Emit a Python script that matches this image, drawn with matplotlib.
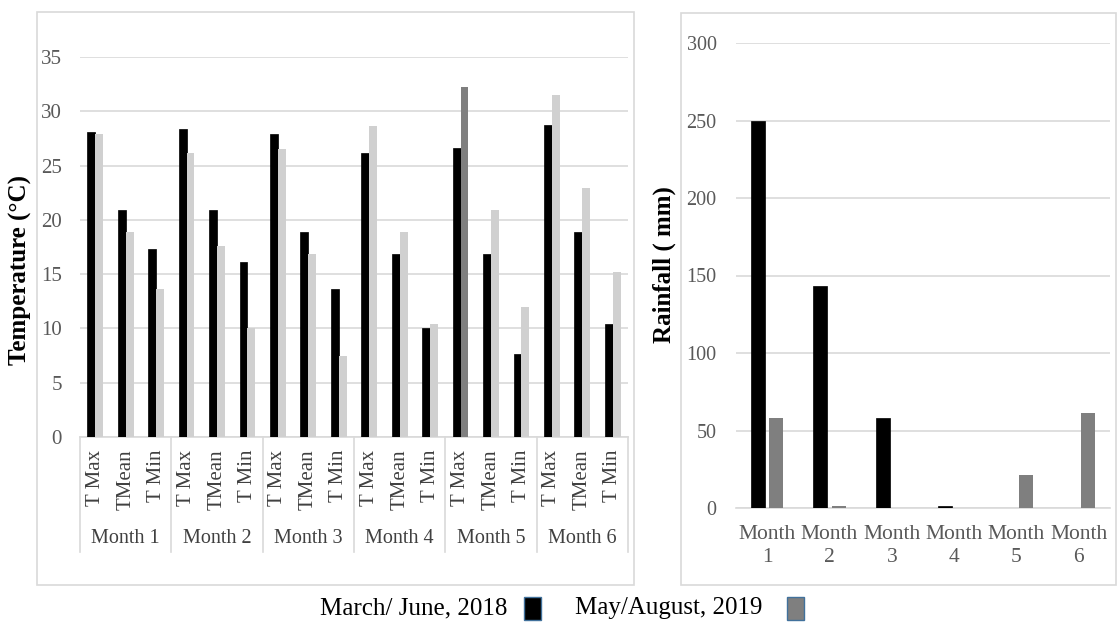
import matplotlib
matplotlib.use("Agg")
import matplotlib.pyplot as plt
import matplotlib.transforms as mtransforms
from matplotlib.patches import Rectangle
import numpy as np

plt.rcParams['font.family'] = ['Liberation Serif', 'DejaVu Serif']

# ---- data ----
months = ['Month 1', 'Month 2', 'Month 3', 'Month 4', 'Month 5', 'Month 6']
measures = ['T Max', 'TMean', 'T Min']
temp_2018 = [28.1, 20.9, 17.3,
             28.4, 20.9, 16.1,
             27.9, 18.9, 13.6,
             26.2, 16.9, 10.0,
             26.6, 16.9, 7.6,
             28.7, 18.9, 10.4]
temp_2019 = [27.9, 18.9, 13.6,
             26.2, 17.6, 10.0,
             26.5, 16.9, 7.5,
             28.6, 18.9, 10.4,
             32.2, 20.9, 12.0,
             31.5, 22.9, 15.2]
rain_2018 = [250, 143, 58, 1, 0, 0]
rain_2019 = [58, 1, 0, 0, 21, 61]
legend_labels = ['March/ June, 2018', 'May/August, 2019']

# ---- styles ----
W, H = 1118, 623
BLACK = '#000000'
LIGHT = '#d0d0d0'
GREY = '#7f7f7f'
GRID = '#d9d9d9'
TICK = '#595959'
DARK = '#404040'
FS = 14.5

fig = plt.figure(figsize=(W / 100, H / 100), dpi=100)
fig.patch.set_facecolor('white')


def fig_rect(x0, y0, x1, y1):
    """Axes rectangle from pixel corners (top-left origin)."""
    return [x0 / W, 1 - y1 / H, (x1 - x0) / W, (y1 - y0) / H]


# panel frames
for (x0, y0, x1, y1) in [(37, 12, 634, 585), (681, 13, 1116, 585)]:
    fig.add_artist(Rectangle((x0 / W, 1 - y1 / H), (x1 - x0) / W, (y1 - y0) / H,
                             transform=fig.transFigure, fill=False,
                             edgecolor=GRID, linewidth=1.2))

# ---- temperature panel ----
ax1 = fig.add_axes(fig_rect(80, 57, 628, 437))
n = len(temp_2018)
x = np.arange(n)
bw = 0.26
colors_2019 = [LIGHT] * n
colors_2019[12] = GREY  # Month 5 T Max
ax1.bar(x - bw / 2, temp_2018, width=bw, color=BLACK, edgecolor=BLACK, linewidth=0.5, zorder=3)
ax1.bar(x + bw / 2, temp_2019, width=bw, color=colors_2019, linewidth=0, zorder=3)
ax1.set_xlim(-0.5, n - 0.5)
ax1.set_ylim(0, 35)
ax1.set_yticks(np.arange(0, 36, 5))
ax1.yaxis.grid(True, color=GRID, linewidth=1.2, zorder=0)
ax1.set_axisbelow(True)
for s in ['top', 'right', 'left']:
    ax1.spines[s].set_visible(False)
ax1.spines['bottom'].set_color(GRID)
ax1.spines['bottom'].set_linewidth(1.2)
ax1.tick_params(axis='y', length=0, pad=13, labelsize=15, labelcolor=TICK)
ax1.set_xticks(x)
ax1.set_xticklabels(measures * len(months), rotation=90, va='top', ha='center')
ax1.tick_params(axis='x', length=0, pad=9, labelsize=15, labelcolor=DARK)

trans = mtransforms.blended_transform_factory(ax1.transData, ax1.transAxes)
for k in range(len(months) + 1):
    xb = 3 * k - 0.5
    ax1.plot([xb, xb], [0, -0.3026], transform=trans, color=GRID,
             linewidth=1.2, clip_on=False)
for k, m in enumerate(months):
    ax1.text(3 * k + 1, -0.268, m, transform=trans, ha='center', va='center',
             fontsize=FS, color=DARK)

fig.text(20 / W, 1 - 270 / H, 'Temperature (°C)', rotation=90, ha='center',
         va='center', fontsize=18, fontweight='bold')

# ---- rainfall panel ----
ax2 = fig.add_axes(fig_rect(736, 43, 1110, 508))
xm = np.arange(len(months))
rbw = 0.225
off = 0.145
ax2.bar(xm - off, rain_2018, width=rbw, color=BLACK, edgecolor=BLACK, linewidth=0.5, zorder=3)
ax2.bar(xm + off, rain_2019, width=rbw, color=GREY, linewidth=0, zorder=3)
ax2.set_xlim(-0.5, len(months) - 0.5)
ax2.set_ylim(0, 300)
ax2.set_yticks(np.arange(0, 301, 50))
ax2.yaxis.grid(True, color=GRID, linewidth=1.2, zorder=0)
ax2.set_axisbelow(True)
for s in ['top', 'right', 'left']:
    ax2.spines[s].set_visible(False)
ax2.spines['bottom'].set_color(GRID)
ax2.spines['bottom'].set_linewidth(1.2)
ax2.tick_params(axis='y', length=0, pad=14, labelsize=FS, labelcolor=TICK)
ax2.set_xticks(xm)
ax2.set_xticklabels([m.replace(' ', '\n') for m in months], linespacing=1.3)
ax2.tick_params(axis='x', length=0, pad=12, labelsize=15.5, labelcolor=TICK)

fig.text(664 / W, 1 - 265 / H, 'Rainfall ( mm)', rotation=90, ha='center',
         va='center', fontsize=18, fontweight='bold')

# ---- legend ----
fig.text(320 / W, 1 - 608 / H, legend_labels[0], ha='left', va='center', fontsize=18)
fig.text(575 / W, 1 - 608 / H, legend_labels[1], ha='left', va='center', fontsize=18)
for (x0, col) in [(524, BLACK), (787, GREY)]:
    fig.add_artist(Rectangle((x0 / W, 1 - 620 / H), 17 / W, 23 / H,
                             transform=fig.transFigure, facecolor=col,
                             edgecolor='#41719c', linewidth=1))

fig.savefig('out.png', dpi=100, facecolor='white')
